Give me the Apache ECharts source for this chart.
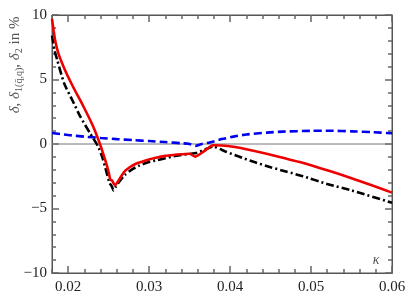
<!DOCTYPE html>
<html><head><meta charset="utf-8">
<script src="https://cdn.jsdelivr.net/npm/echarts@6/dist/echarts.min.js"></script>
<style>html,body{margin:0;padding:0;background:#fff}#c{width:415px;height:301px}</style>
</head><body><div id="c"></div>
<script>
// delta (red, solid)
const redK = [0.018,0.0182,0.0184,0.0188,0.0196,0.0206,0.0219,0.0231,0.0239,0.0243,0.0247,0.0250,0.0252,0.02545,0.0256,0.0258,0.0261,0.0265,0.0270,0.0276,0.0283,0.0290,0.0300,0.0310,0.0320,0.0330,0.0340,0.0350,0.0357,0.0368,0.0379,0.0390,0.0404,0.0420,0.0445,0.0470,0.0486,0.0500,0.0523,0.0550,0.0575,0.0600];
const redV = [9.7,8.8,8.0,7.0,5.74,4.44,2.89,1.34,0.05,-0.7,-1.5,-2.2,-2.75,-2.85,-3.05,-3.2,-2.95,-2.55,-2.1,-1.8,-1.55,-1.4,-1.2,-1.05,-0.92,-0.85,-0.8,-0.76,-0.98,-0.55,-0.1,-0.12,-0.22,-0.4,-0.75,-1.15,-1.4,-1.65,-2.1,-2.65,-3.2,-3.77];
// delta_1(qbar,q) (black, dash-dot)
const blackK = [0.018,0.0183,0.01865,0.0195,0.0205,0.0215,0.0227,0.0237,0.0242,0.0247,0.0251,0.0254,0.0256,0.0259,0.0264,0.0270,0.0278,0.0287,0.0297,0.0310,0.0320,0.0330,0.0340,0.0350,0.0358,0.0368,0.0379,0.0395,0.0410,0.0430,0.0450,0.0470,0.0490,0.0520,0.0550,0.0600];
const blackV = [8.4,7.3,6.5,4.7,3.41,2.12,0.83,-0.2,-1.0,-2.1,-3.0,-3.3,-3.6,-3.3,-2.85,-2.4,-2.0,-1.7,-1.45,-1.25,-1.1,-0.95,-0.85,-0.77,-0.7,-0.45,-0.2,-0.6,-0.95,-1.4,-1.8,-2.15,-2.5,-3.1,-3.6,-4.55];
// delta_2 (blue, dashed)
const blueK = [0.018,0.020,0.022,0.024,0.026,0.028,0.030,0.032,0.034,0.0350,0.0357,0.0365,0.0375,0.0390,0.0404,0.0420,0.0445,0.0465,0.0500,0.0523,0.0550,0.0575,0.0600];
const blueV = [0.85,0.7,0.57,0.47,0.38,0.3,0.23,0.15,0.06,0.0,-0.15,0.0,0.12,0.38,0.57,0.74,0.88,0.96,1.02,1.03,0.98,0.92,0.83];
const xLabelValues = [0.02,0.03,0.04,0.05,0.06];

const pairs = (k, v) => k.map((x, i) => [x, v[i]]);
const chart = echarts.init(document.getElementById('c'), null, {renderer:'canvas'});
const axisCol = '#555';
const tickCol = '#666';
const font = "'Liberation Serif', 'Times New Roman', serif";
const tick = (len, extra) => Object.assign({show:true, inside:true, length:len, lineStyle:{color:tickCol, width:1.5}}, extra || {});
const option = {
  animation:false,
  grid:{left:52, right:23, top:15, bottom:28, show:true, borderColor:axisCol},
  xAxis:[
    {type:'value', min:0.018, max:0.06, position:'bottom', axisLine:{show:true, onZero:false, lineStyle:{color:axisCol}},
      splitLine:{show:false}, axisTick:tick(7, {customValues:xLabelValues}),
      axisLabel:{customValues:xLabelValues, fontFamily:font, fontSize:15, color:'#222', margin:7, formatter:v=>v.toFixed(2)}},
    {type:'value', min:0.018, max:0.06, interval:0.002, position:'bottom', axisLine:{show:true, onZero:false, lineStyle:{color:axisCol}},
      splitLine:{show:false}, axisTick:tick(4), axisLabel:{show:false}},
    {type:'value', min:0.018, max:0.06, position:'top', axisLine:{show:true, onZero:false, lineStyle:{color:axisCol}},
      splitLine:{show:false}, axisTick:tick(7, {customValues:xLabelValues}), axisLabel:{show:false}},
    {type:'value', min:0.018, max:0.06, interval:0.002, position:'top', axisLine:{show:true, onZero:false, lineStyle:{color:axisCol}},
      splitLine:{show:false}, axisTick:tick(4), axisLabel:{show:false}}
  ],
  yAxis:[
    {type:'value', min:-10, max:10, interval:5, position:'left', axisLine:{show:true, onZero:false, lineStyle:{color:axisCol}},
      splitLine:{show:false}, axisTick:{show:false},
      axisLabel:{fontFamily:font, fontSize:15, color:'#222', margin:5, formatter:v=> v<0 ? '\u2212'+Math.abs(v) : String(v)}},
    // helper left axes moved into the plot so their outward ticks point inward
    {type:'value', min:-10, max:10, interval:5, position:'left', offset:-7, axisLine:{show:false},
      splitLine:{show:false}, axisTick:tick(7, {inside:false}), axisLabel:{show:false}},
    {type:'value', min:-10, max:10, interval:1, position:'left', offset:-4, axisLine:{show:false},
      splitLine:{show:false}, axisTick:tick(4, {inside:false}), axisLabel:{show:false}},
    {type:'value', min:-10, max:10, interval:5, position:'right', axisLine:{show:true, onZero:false, lineStyle:{color:axisCol}},
      splitLine:{show:false}, axisTick:tick(7),
      minorTick:{show:true, splitNumber:5, length:4, lineStyle:{color:tickCol, width:1.5}},
      axisLabel:{show:false}}
  ],
  series:[
    {type:'line', name:'zero', data:[[0.018,0],[0.06,0]], showSymbol:false, silent:true,
      lineStyle:{color:'#777', width:1}, z:1},
    {type:'line', name:'delta2', data:pairs(blueK, blueV), showSymbol:false, smooth:0.2,
      lineStyle:{color:'#0000ee', width:2.6, type:[8,4]}, z:3},
    {type:'line', name:'delta1', data:pairs(blackK, blackV), showSymbol:false, smooth:0.2,
      lineStyle:{color:'#000', width:2.6, type:[8,3,2,3]}, z:4},
    {type:'line', name:'delta', data:pairs(redK, redV), showSymbol:false, smooth:0.2,
      lineStyle:{color:'#ee0000', width:2.6}, z:5}
  ],
  graphic:[
    {type:'text', x:15, y:65, rotation:Math.PI/2,
      style:{text:'{i|δ}{n|, }{i|δ}{s|1(q̄,q)}{n|, }{i|δ}{s|2}{n| in %}',
        align:'center', verticalAlign:'middle', fill:'#555',
        rich:{
          i:{fontFamily:font, fontSize:15, fontStyle:'italic', fill:'#555', lineHeight:18, verticalAlign:'middle'},
          n:{fontFamily:font, fontSize:15, fill:'#555', lineHeight:18, verticalAlign:'middle'},
          s:{fontFamily:font, fontSize:10, fill:'#555', lineHeight:18, verticalAlign:'bottom', padding:[6,0,0,0]}
        }}},
    {type:'text', x:376, y:260, style:{text:'κ', fontFamily:font, fontSize:14, fontStyle:'italic', fill:'#555',
      align:'center', verticalAlign:'middle'}}
  ]
};
chart.setOption(option);
</script></body></html>
